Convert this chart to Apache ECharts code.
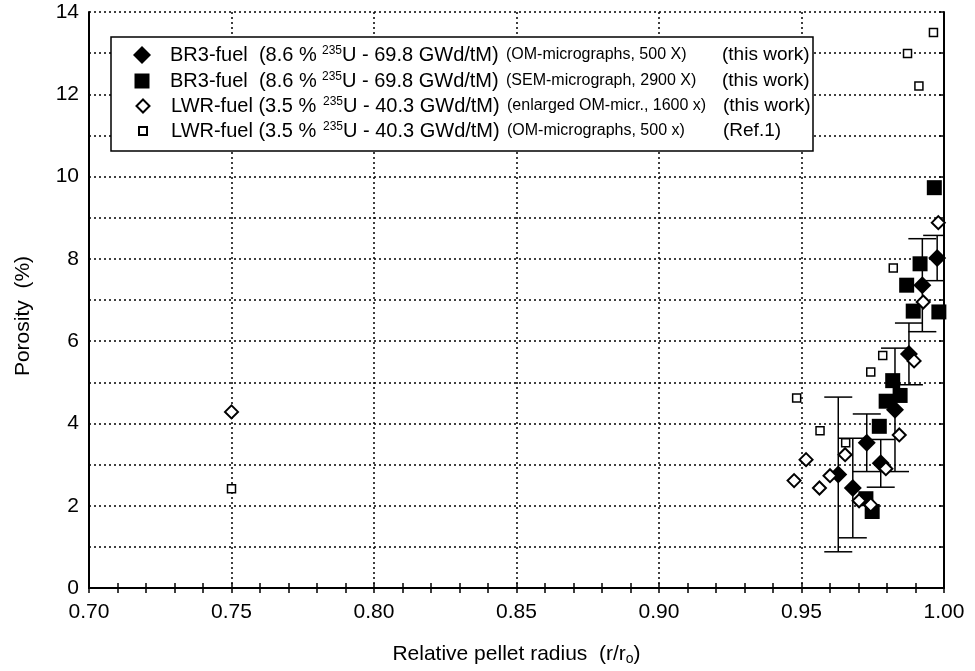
<!DOCTYPE html>
<html>
<head>
<meta charset="utf-8">
<script src="https://cdn.jsdelivr.net/npm/echarts@6/dist/echarts.min.js"></script>
<style>
  body { margin: 0; background: #fff; }
  #chart { width: 975px; height: 671px; }
</style>
</head>
<body>
<div id="chart"></div>
<script>
// BR3-fuel, OM-micrographs 500X (filled diamonds, with error bars)
var omX   = [0.9629, 0.9680, 0.9729, 0.9778, 0.9828, 0.9877, 0.9924, 0.9976];
var omY   = [2.76, 2.43, 3.53, 3.03, 4.33, 5.69, 7.36, 8.02];
var omErr = [1.88, 1.21, 0.70, 0.58, 1.50, 0.75, 1.13, 0.55];

// BR3-fuel, SEM-micrograph 2900X (filled squares)
var semX = [0.9966, 0.9916, 0.9869, 0.9892, 0.9982, 0.9820, 0.9846, 0.9797, 0.9773, 0.9726, 0.9748];
var semY = [9.73, 7.88, 7.36, 6.73, 6.71, 5.04, 4.68, 4.54, 3.93, 2.17, 1.86];

// LWR-fuel, enlarged OM-micr. 1600x (open diamonds)
var enlX = [0.75, 0.9980, 0.9927, 0.9895, 0.9843, 0.9796, 0.9653, 0.9600, 0.9516, 0.9474, 0.9563, 0.9702, 0.9743];
var enlY = [4.28, 8.88, 6.95, 5.52, 3.72, 2.90, 3.24, 2.73, 3.12, 2.61, 2.43, 2.12, 2.02];

// LWR-fuel, OM-micrographs 500x, Ref.1 (small open squares)
var refX = [0.75, 0.9963, 0.9872, 0.9912, 0.9822, 0.9785, 0.9743, 0.9483, 0.9565, 0.9655];
var refY = [2.41, 13.5, 12.99, 12.2, 7.78, 5.65, 5.25, 4.62, 3.82, 3.53];

var seriesNames = ['BR3 OM', 'BR3 SEM', 'LWR enlarged', 'LWR Ref1'];
var legendFuel  = ['BR3-fuel  (8.6 % ', 'BR3-fuel  (8.6 % ', 'LWR-fuel (3.5 % ', 'LWR-fuel (3.5 % '];
var legendBurn  = ['U - 69.8 GWd/tM)', 'U - 69.8 GWd/tM)', 'U - 40.3 GWd/tM)', 'U - 40.3 GWd/tM)'];
var legendMeth  = ['(OM-micrographs, 500 X)', '(SEM-micrograph, 2900 X)', '(enlarged OM-micr., 1600 x)', '(OM-micrographs, 500 x)'];
var legendSrc   = ['(this work)', '(this work)', '(this work)', '(Ref.1)'];

var xTickMin = 0.70, xTickMax = 1.00, xTickStep = 0.05;
var yTickMin = 0, yTickMax = 14, yTickStep = 1;

var font = 'Liberation Sans, Arial, sans-serif';

function pairs(xs, ys) {
    var out = [];
    for (var i = 0; i < xs.length; i++) out.push([xs[i], ys[i]]);
    return out;
}
var errData = [];
for (var i = 0; i < omX.length; i++) {
    errData.push([omX[i], omY[i] - omErr[i], omY[i] + omErr[i]]);
}

function renderErrorBar(params, api) {
    var x = api.value(0);
    var lo = api.coord([x, api.value(1)]);
    var hi = api.coord([x, api.value(2)]);
    var half = 14;
    var st = { stroke: '#000', lineWidth: 1.5 };
    return {
        type: 'group',
        children: [
            { type: 'line', shape: { x1: hi[0], y1: hi[1], x2: lo[0], y2: lo[1] }, style: st },
            { type: 'line', shape: { x1: hi[0] - half, y1: hi[1], x2: hi[0] + half, y2: hi[1] }, style: st },
            { type: 'line', shape: { x1: lo[0] - half, y1: lo[1], x2: lo[0] + half, y2: lo[1] }, style: st }
        ]
    };
}

var rich = {
    n: { fontFamily: font, fontSize: 20, width: 152, color: '#000' },
    s: { fontFamily: font, fontSize: 12, width: 20, color: '#000', verticalAlign: 'top' },
    u: { fontFamily: font, fontSize: 20, width: 164, color: '#000' },
    m: { fontFamily: font, fontSize: 16, width: 216, color: '#000' },
    w: { fontFamily: font, fontSize: 19, color: '#000' }
};

function legendLabel(name) {
    var k = seriesNames.indexOf(name);
    return '{n|' + legendFuel[k] + '}{s|235}{u|' + legendBurn[k] + '}{m|' + legendMeth[k] + '}{w|' + legendSrc[k] + '}';
}

// icon sizes per legend row, and row centres
var iconSize = [18, 15, 13, 8];
var rowY = [55, 81, 106, 131];
var iconCx = 142, textX = 170;

var legends = [];
for (var k = 0; k < 4; k++) {
    var s = iconSize[k];
    legends.push({
        data: [seriesNames[k]],
        left: iconCx - s / 2,
        top: rowY[k] - 10,
        padding: 0,
        itemWidth: s,
        itemHeight: s,
        z: 6,
        selectedMode: false,
        formatter: legendLabel,
        textStyle: { rich: rich, padding: [0, 0, 0, textX - (iconCx + s / 2) - 5] }
    });
}

var myChart = echarts.init(document.getElementById('chart'));
var option = {
    backgroundColor: '#fff',
    animation: false,
    textStyle: { fontFamily: font },
    grid: { left: 89, right: 31, top: 12, bottom: 82 },
    legend: legends,
    graphic: [{
        type: 'rect',
        z: 5,
        shape: { x: 111, y: 37, width: 702, height: 114 },
        style: { fill: '#fff', stroke: '#000', lineWidth: 1.5 }
    }],
    xAxis: [{
        type: 'value',
        position: 'bottom',
        min: xTickMin, max: xTickMax, interval: xTickStep,
        name: '{t|Relative pellet radius  (r/r}{o|o}{t|)}',
        nameLocation: 'middle',
        nameGap: 54,
        nameTextStyle: {
            rich: {
                t: { fontFamily: font, fontSize: 21, color: '#000' },
                o: { fontFamily: font, fontSize: 14, color: '#000', verticalAlign: 'bottom', padding: [10, 0, 0, 0] }
            }
        },
        axisLine: { lineStyle: { color: '#000', width: 2 } },
        axisTick: { inside: true, length: 5, lineStyle: { color: '#000', width: 1.5 } },
        minorTick: { show: true, splitNumber: 5, length: 5, lineStyle: { color: '#000', width: 1.5 } },
        axisLabel: { color: '#000', fontSize: 21, margin: 14, formatter: function (v) { return v.toFixed(2); } },
        splitLine: { show: true, lineStyle: { color: '#000', type: [2, 3], width: 1.5 } }
    }, {
        type: 'value',
        position: 'top',
        min: xTickMin, max: xTickMax, interval: xTickStep,
        axisLine: { lineStyle: { color: '#000', width: 2 } },
        axisTick: { inside: true, length: 5, lineStyle: { color: '#000', width: 1.5 } },
        minorTick: { show: true, splitNumber: 5, length: 5, lineStyle: { color: '#000', width: 1.5 } },
        axisLabel: { show: false },
        splitLine: { show: false }
    }],
    yAxis: [{
        type: 'value',
        position: 'left',
        min: yTickMin, max: yTickMax, interval: yTickStep,
        name: 'Porosity  (%)',
        nameLocation: 'middle',
        nameGap: 55,
        nameTextStyle: { color: '#000', fontSize: 21, fontFamily: font, padding: [0, 32, 0, 0] },
        axisLine: { lineStyle: { color: '#000', width: 2 } },
        axisTick: { show: false },
        axisLabel: {
            color: '#000', fontSize: 21, margin: 10,
            formatter: function (v) { return v % 2 === 0 ? String(v) : ''; }
        },
        splitLine: { show: true, lineStyle: { color: '#000', type: [2, 3], width: 1.5 } }
    }, {
        type: 'value',
        position: 'right',
        min: yTickMin, max: yTickMax, interval: yTickStep,
        axisLine: { lineStyle: { color: '#000', width: 2 } },
        axisTick: { inside: true, length: 5, lineStyle: { color: '#000', width: 1.5 } },
        axisLabel: { show: false },
        splitLine: { show: false }
    }],
    series: [{
        name: 'errors',
        type: 'custom',
        renderItem: renderErrorBar,
        data: errData,
        clip: true,
        z: 2,
        silent: true
    }, {
        name: seriesNames[1],
        type: 'scatter',
        symbol: 'rect',
        symbolSize: 15,
        itemStyle: { color: '#000', opacity: 1 },
        data: pairs(semX, semY),
        z: 3
    }, {
        name: seriesNames[0],
        type: 'scatter',
        symbol: 'diamond',
        symbolSize: 18,
        itemStyle: { color: '#000', opacity: 1 },
        data: pairs(omX, omY),
        z: 3
    }, {
        name: seriesNames[3],
        type: 'scatter',
        symbol: 'rect',
        symbolSize: 8,
        itemStyle: { color: '#fff', borderColor: '#000', borderWidth: 1.5, opacity: 1 },
        data: pairs(refX, refY),
        z: 4
    }, {
        name: seriesNames[2],
        type: 'scatter',
        symbol: 'diamond',
        symbolSize: 13,
        itemStyle: { color: '#fff', borderColor: '#000', borderWidth: 2, opacity: 1 },
        data: pairs(enlX, enlY),
        z: 4
    }]
};
myChart.setOption(option);
</script>
</body>
</html>
